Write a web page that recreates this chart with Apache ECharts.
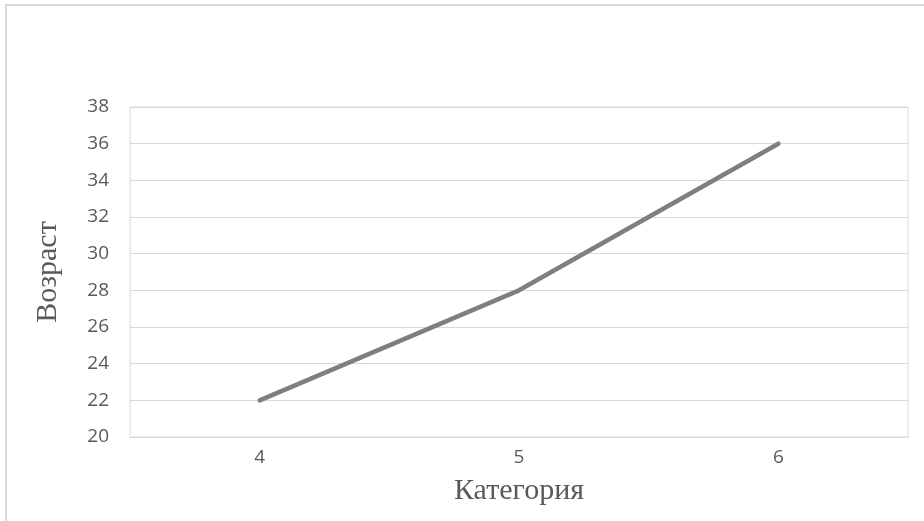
<!DOCTYPE html>
<html><head><meta charset="utf-8">
<script src="https://cdn.jsdelivr.net/npm/echarts@6/dist/echarts.min.js"></script>
<style>html,body{margin:0;padding:0;background:#fff}#c{width:924px;height:521px}</style>
</head><body><div id="c"></div>
<script>
const categories = ['4', '5', '6'];
const ageValues = [22, 28, 36];
const yTitle = 'Возраст';
const xTitle = 'Категория';

const chart = echarts.init(document.getElementById('c'), null, {renderer: 'canvas'});
chart.setOption({
  animation: false,
  backgroundColor: '#fff',
  graphic: [{
    type: 'rect', shape: {x: 6, y: 5, width: 940, height: 540},
    style: {fill: 'none', stroke: '#d9d9d9', lineWidth: 2}, silent: true
  }],
  grid: {left: 130, right: 16, top: 107, bottom: 84, show: true, borderColor: '#d9d9d9', borderWidth: 1},
  xAxis: {
    type: 'category', data: categories, boundaryGap: true,
    axisLine: {show: true, lineStyle: {color: '#d9d9d9', width: 1}},
    axisTick: {show: false},
    axisLabel: {color: '#595959', fontSize: 19, fontFamily: 'Open Sans', margin: 11},
    name: xTitle, nameLocation: 'middle', nameGap: 39,
    nameTextStyle: {color: '#595959', fontSize: 30, fontFamily: 'Liberation Serif'}
  },
  yAxis: {
    type: 'value', min: 20, max: 38, interval: 2,
    axisLine: {show: false}, axisTick: {show: false},
    splitLine: {lineStyle: {color: '#d9d9d9', width: 1}},
    axisLabel: {color: '#595959', fontSize: 19, fontFamily: 'Open Sans', margin: 21},
    name: yTitle, nameLocation: 'middle', nameGap: 67,
    nameTextStyle: {color: '#595959', fontSize: 30, fontFamily: 'Liberation Serif'}
  },
  series: [{
    type: 'line', data: ageValues, showSymbol: false, symbol: 'none',
    lineStyle: {color: '#7f7f7f', width: 4.5, cap: 'round', join: 'round'}
  }]
});
</script></body></html>
